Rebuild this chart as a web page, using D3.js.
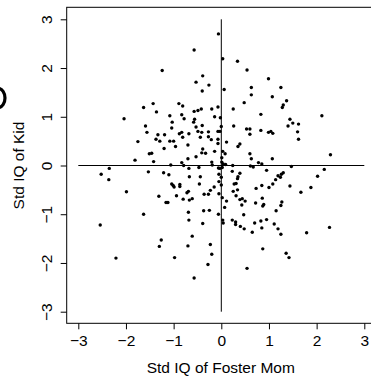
<!DOCTYPE html>
<html>
<head>
<meta charset="utf-8">
<script src="https://cdn.jsdelivr.net/npm/d3@7"></script>
<style>
  html, body { margin: 0; padding: 0; background: #fff; }
  svg { display: block; }
</style>
</head>
<body>
<div id="chart"></div>
<script>
// ─── Data (standardised IQ scores) ────────────────────────────────────────────
const momIQ = [
  -0.06, -0.57, -1.24, -0.39, -0.53, -0.26, -0.40, -1.43, -1.63, -0.89,
  -0.81, -1.36, -2.04, -1.08, -0.57, -0.49, -0.42, -0.20, -0.07, -0.14,
  -0.83, -0.78, -0.56, -0.58, -0.53, -0.40, -1.03, -1.04, -1.59, -1.56,
  -1.19, -1.33, -1.29, -1.37, -1.08, -1.00, -0.83, -0.81, -0.88, -0.68,
  -0.49, -0.41, -0.27, -0.07, -1.75, -1.20, -0.96, -0.70, -0.44, -0.27,
  -0.21, -0.07, -0.07, -0.39, -0.41, -0.33, -0.14, -1.51, -1.46, -0.53,
  -0.70, -1.81, -1.42, -0.20, -0.19, -1.06, -0.83, -0.79, -2.35, -0.68,
  -0.47, -0.06,
  0.03, 0.34, 0.54, 0.99, 0.63, 1.25, 0.06, 0.63, 1.07, 1.37,
  0.48, 1.30, 1.28, 0.25, 2.11, -0.02, 0.83, 1.44, 1.50, 1.62,
  1.40, 0.26, 0.00, 0.53, 0.60, 0.60, 0.83, 0.99, 1.04, 1.60,
  1.62, -0.03, 0.11, 0.39, 0.35, 0.03, 0.08, 0.60, 0.63, 0.01,
  0.01, 0.09, 0.24, 0.78, 0.85, 1.07, 2.29, 1.47, 2.16, 0.61,
  0.67, -0.03, 0.04, 0.02, 1.08,
  -2.52, -2.36, -1.53, -1.21, -1.10, -0.67, -0.44, -0.05, -1.99, -1.04,
  -1.01, -0.99, -0.87, -0.87, -0.46, -0.05, -0.15, -0.23, -0.69, -0.72,
  -1.31, -0.94, -0.80, -0.67, -0.61, -0.36, -0.27, -0.05, -1.16, -1.12,
  -0.69, -0.37, -0.25, -0.06, -1.63, -2.54, -0.68, -0.39, -0.61, -1.26,
  -1.30, -0.70, -0.23, -0.20, -2.21, -0.98, -0.28, -0.57,
  2.02, 0.23, 0.39, 0.35, 0.34, 0.95, 1.30, 1.26, 1.19, 1.24,
  1.14, 1.08, 1.00, 0.85, 0.73, 1.44, 1.88, 1.67, 0.00, 0.00,
  0.27, 0.31, 0.25, 0.34, 0.31, 0.39, 0.44, 0.50, 0.43, 0.02,
  0.11, 0.07, 0.47, 0.72, 0.86, 0.89, 0.87, 1.27, 1.25, 1.15,
  0.03, 0.04, 0.23, 0.30, 0.30, 0.40, 0.48, 0.65, 0.70, 0.83,
  0.95, 0.85, 1.11, 1.19, 1.25, 1.79, 2.27, 0.87, 1.36, 1.42,
  0.54
]

const kidIQ = [
  2.70, 2.37, 1.95, 1.84, 1.71, 1.65, 1.53, 1.27, 1.19, 1.27,
  1.22, 1.10, 0.96, 1.02, 1.11, 1.13, 1.16, 1.16, 1.20, 1.00,
  1.04, 0.96, 0.95, 0.89, 0.79, 0.82, 0.89, 0.77, 0.81, 0.68,
  0.63, 0.63, 0.50, 0.54, 0.50, 0.50, 0.68, 0.58, 0.65, 0.65,
  0.70, 0.68, 0.69, 0.70, 0.49, 0.35, 0.39, 0.42, 0.58, 0.59,
  0.53, 0.54, 0.45, 0.34, 0.26, 0.25, 0.29, 0.24, 0.25, 0.18,
  0.14, 0.11, 0.08, 0.07, 0.01, 0.01, 0.06, 0.00, -0.06, -0.06,
  -0.04, -0.05,
  2.19, 2.14, 1.96, 1.78, 1.60, 1.60, 1.56, 1.45, 1.41, 1.33,
  1.29, 1.24, 1.19, 1.16, 1.02, 0.98, 1.05, 0.95, 0.87, 0.85,
  0.81, 0.81, 0.80, 0.75, 0.75, 0.64, 0.72, 0.68, 0.70, 0.69,
  0.54, 0.70, 0.48, 0.44, 0.39, 0.29, 0.24, 0.24, 0.14, 0.16,
  0.07, 0.02, 0.00, 0.06, 0.03, 0.14, 0.22, -0.02, -0.08, -0.01,
  -0.03, -0.06, 0.03, -0.04, 0.66,
  -0.18, -0.29, -0.13, -0.15, -0.19, -0.23, -0.23, -0.18, -0.54, -0.38,
  -0.41, -0.44, -0.39, -0.43, -0.38, -0.33, -0.44, -0.51, -0.53, -0.56,
  -0.63, -0.62, -0.69, -0.71, -0.68, -0.59, -0.59, -0.58, -0.76, -0.76,
  -0.96, -0.93, -0.92, -1.00, -1.00, -1.22, -1.12, -1.19, -1.45, -1.53,
  -1.66, -1.65, -1.62, -1.82, -1.90, -1.89, -2.03, -2.31,
  -0.22, -0.12, -0.16, -0.23, -0.27, -0.10, -0.15, -0.18, -0.21, -0.24,
  -0.29, -0.38, -0.45, -0.41, -0.47, -0.42, -0.45, -0.55, -0.24, -0.40,
  -0.38, -0.37, -0.53, -0.50, -0.62, -0.70, -0.68, -0.73, -0.81, -0.66,
  -0.73, -0.86, -1.01, -0.77, -0.67, -0.80, -0.83, -0.75, -0.82, -0.93,
  -1.12, -1.18, -1.12, -1.16, -1.21, -1.25, -1.30, -1.37, -1.18, -1.14,
  -1.11, -1.28, -1.20, -1.30, -1.41, -1.38, -1.27, -1.71, -1.80, -1.89,
  -2.11
]

const xTicks = [-3, -2, -1, 0, 1, 2, 3]
const yTicks = [-3, -2, -1, 0, 1, 2, 3]
const xTitle = 'Std IQ of Foster Mom'
const yTitle = 'Std IQ of Kid'

// ─── Layout ───────────────────────────────────────────────────────────────────
const W = 371, H = 378
const FONT = '"Liberation Sans", Arial, Helvetica, sans-serif'
const FS = 15.5

const x = d3.scaleLinear().domain([-3, 3]).range([78.3, 364.3])
const y = d3.scaleLinear().domain([-3, 3]).range([311.7, 19.3])

const svg = d3.select('#chart').append('svg')
  .attr('width', W).attr('height', H)
  .attr('viewBox', `0 0 ${W} ${H}`)

// cropped glyph from neighbouring panel
svg.append('ellipse')
  .attr('cx', -1.5).attr('cy', 98).attr('rx', 6.5).attr('ry', 9.5)
  .attr('fill', 'none').attr('stroke', '#000').attr('stroke-width', 3.2)

// plot frame (right edge falls outside the crop)
svg.append('rect')
  .attr('x', 66.7).attr('y', 7.3)
  .attr('width', W + 10).attr('height', 323.3 - 7.3)
  .attr('fill', 'none').attr('stroke', '#000').attr('stroke-width', 1)

// ── Axes ──────────────────────────────────────────────────────────────────────
const fmt = d3.format('d')

const xAxis = svg.append('g')
  .attr('transform', 'translate(0,323.3)')
  .call(d3.axisBottom(x).tickValues(xTicks).tickSize(6).tickPadding(6).tickFormat(fmt))
const yAxis = svg.append('g')
  .attr('transform', 'translate(66.7,0)')
  .call(d3.axisLeft(y).tickValues(yTicks).tickSize(6).tickFormat(fmt))

xAxis.select('.domain').remove()
yAxis.select('.domain').remove()
xAxis.attr('font-size', null).attr('font-family', null)
yAxis.attr('font-size', null).attr('font-family', null)

xAxis.selectAll('text')
  .style('font-family', FONT).style('font-size', FS + 'px').attr('fill', '#000')
yAxis.selectAll('text')
  .style('font-family', FONT).style('font-size', FS + 'px').attr('fill', '#000')
  .attr('text-anchor', 'middle').attr('x', null)
  .attr('transform', 'translate(-20.5,0) rotate(-90)')
  .attr('dy', '0.35em')

// ── Reference lines at zero ───────────────────────────────────────────────────
svg.append('line')
  .attr('x1', x(-3)).attr('x2', x(3))
  .attr('y1', y(0)).attr('y2', y(0))
  .attr('stroke', '#000').attr('stroke-width', 1)
svg.append('line')
  .attr('x1', x(0)).attr('x2', x(0))
  .attr('y1', y(3)).attr('y2', y(-3))
  .attr('stroke', '#000').attr('stroke-width', 1)

// ── Points ────────────────────────────────────────────────────────────────────
svg.append('g')
  .selectAll('circle')
  .data(d3.zip(momIQ, kidIQ))
  .join('circle')
  .attr('cx', d => x(d[0]))
  .attr('cy', d => y(d[1]))
  .attr('r', 1.7)
  .attr('fill', '#000')

// ── Titles ────────────────────────────────────────────────────────────────────
svg.append('text')
  .attr('x', x(0) - 0.5).attr('y', 372.5)
  .attr('text-anchor', 'middle')
  .style('font-family', FONT).style('font-size', FS + 'px')
  .text(xTitle)

svg.append('text')
  .attr('transform', `translate(23.5,${y(0)}) rotate(-90)`)
  .attr('text-anchor', 'middle')
  .style('font-family', FONT).style('font-size', FS + 'px')
  .text(yTitle)
</script>
</body>
</html>
